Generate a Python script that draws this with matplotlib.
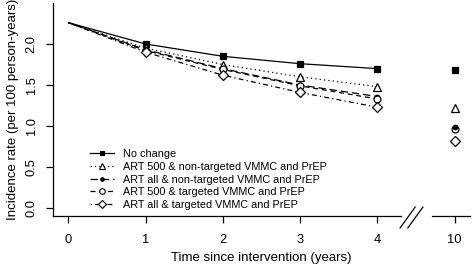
import numpy as np
import matplotlib
matplotlib.use("Agg")
import matplotlib.pyplot as plt
import matplotlib.transforms as mtransforms

plt.rcParams['font.family'] = ['Liberation Sans', 'DejaVu Sans']

# x positions on the axis (10 years is drawn after a break, at position 5)
years = [0, 1, 2, 3, 4]
year_labels = ['0', '1', '2', '3', '4', '10']
break_pos = 5

labels = [
    "No change",
    "ART 500 & non-targeted VMMC and PrEP",
    "ART all & non-targeted VMMC and PrEP",
    "ART 500 & targeted VMMC and PrEP",
    "ART all & targeted VMMC and PrEP",
]
# incidence at years 0..4
curves = [
    [2.26, 2.00, 1.85, 1.76, 1.70],
    [2.26, 1.95, 1.75, 1.60, 1.48],
    [2.26, 1.93, 1.70, 1.50, 1.36],
    [2.26, 1.92, 1.69, 1.49, 1.33],
    [2.26, 1.90, 1.62, 1.41, 1.23],
]
# incidence at year 10
year10 = [1.68, 1.22, 0.99, 0.97, 0.82]

styles = [
    dict(ls='-', marker='s', mfc='black', ms=4.2),
    dict(ls=(0, (1, 2.5)), marker='^', mfc='white', ms=6),
    dict(ls=(0, (6, 3)), marker='o', mfc='black', ms=3.2),
    dict(ls=(0, (4, 3)), marker='o', mfc='white', ms=5),
    dict(ls=(0, (1, 2.5, 4, 2.5)), marker='D', mfc='white', ms=4.6),
]

fig = plt.figure(figsize=(4.72, 2.67), dpi=100)
ax = fig.add_axes([0.1123, 0.191, 0.8835, 0.7966])

handles = []
for y, y10, lab, st in zip(curves, year10, labels, styles):
    ax.plot(years, y, color='black', lw=0.9, ls=st['ls'])
    ax.plot(years[1:], y[1:], ls='none', marker=st['marker'], mfc=st['mfc'],
            mec='black', mew=0.9, ms=st['ms'])
    mfc10 = 'black' if st['mfc'] == 'black' else 'none'
    ax.plot([break_pos], [y10], ls='none', marker=st['marker'], mfc=mfc10,
            mec='black', mew=0.9, ms=st['ms'])
    lh, = ax.plot([], [], color='black', lw=0.9, ls=st['ls'], marker=st['marker'],
                  mfc=st['mfc'], mec='black', mew=0.8, ms=st['ms'] * 0.8)
    handles.append(lh)

ax.set_xlim(-0.2, 5.2)
ax.set_ylim(-0.096, 2.496)

ax.spines['top'].set_visible(False)
ax.spines['right'].set_visible(False)
ax.spines['bottom'].set_visible(False)
ax.spines['left'].set_linewidth(0.9)

# bottom axis line with a break between 4 and 10
ax.plot([-0.2, 4.3], [-0.096, -0.096], color='black', lw=0.9, clip_on=False)
ax.plot([4.71, 5.2], [-0.096, -0.096], color='black', lw=0.9, clip_on=False)
trans = mtransforms.blended_transform_factory(ax.transData, ax.transAxes)
for dx in (0.0, 0.1):
    ax.plot([4.295 + dx, 4.49 + dx], [-0.056, 0.042], color='black', lw=0.9,
            transform=trans, clip_on=False)

ax.set_xticks(years + [break_pos])
ax.set_xticklabels(year_labels)
ax.set_yticks([0.0, 0.5, 1.0, 1.5, 2.0])
ax.set_yticklabels(['0.0', '0.5', '1.0', '1.5', '2.0'], rotation=90, va='center')
ax.tick_params(axis='both', labelsize=9.3, length=5, width=0.9, pad=6)
ax.tick_params(axis='x', pad=8)

ax.set_xlabel("Time since intervention (years)", fontsize=9.5, labelpad=4)
ax.set_ylabel("Incidence rate (per 100 person-years)", fontsize=9.5, labelpad=5)

ax.legend(handles, labels, loc='upper left', bbox_to_anchor=(0.075, 0.34),
          frameon=False, fontsize=7.8, handlelength=2.2, handletextpad=0.9,
          labelspacing=0.25, borderpad=0)

fig.savefig("out.png", dpi=100)
